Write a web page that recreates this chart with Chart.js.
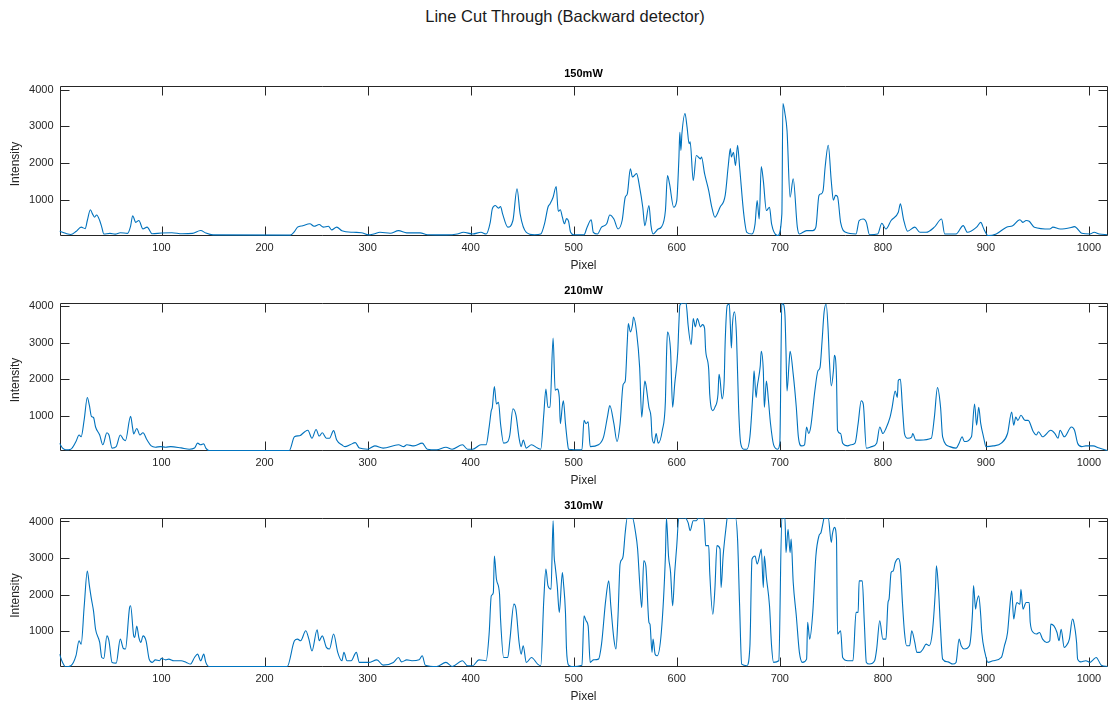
<!DOCTYPE html>
<html><head><meta charset="utf-8">
<script src="https://cdn.jsdelivr.net/npm/chart.js@4.4.0/dist/chart.umd.min.js"></script>
<style>
html,body{margin:0;padding:0;background:#fff;width:1109px;height:702px;overflow:hidden;position:relative;font-family:"Liberation Sans",Arial,sans-serif;}
#title{position:absolute;left:0;width:1130px;top:7px;text-align:center;font-size:16.5px;line-height:18px;color:#1a1a1a;}
canvas{position:absolute;left:0;}
</style></head><body>
<div id="title">Line Cut Through (Backward detector)</div>
<canvas id="c1" width="1109" height="217" style="top:60px"></canvas>
<canvas id="c2" width="1109" height="215" style="top:277px"></canvas>
<canvas id="c3" width="1109" height="210" style="top:492px"></canvas>
<script>
const panelTitles = ["150mW", "210mW", "310mW"];
const xTicks = [100,200,300,400,500,600,700,800,900,1000];
const yTicks = [1000,2000,3000,4000];
const xLimits = [1, 1018];
const yLimits = [30, 4095];

const pixel150 = [1,4,8,12,17,22,26,28,31,33,35,37,40,42,44,50,55,60,67,70,72,75,78,82,86,91,100,110,120,130,138,143,150,225,229,232,237,244,248,253,257,262,265,270,275,286,294,301,306,312,322,330,338,351,358,377,387,393,402,410,415,419,421,424,427,429,431,436,441,445,448,454,462,468,472,475,477,480,483,485,487,489,491,493,495,497,500,510,513,517,519,523,527,532,535,539,543,547,550,552,555,557,561,564,567,569,573,575,577,582,585,589,591,593,597,600,602,603,604,605,608,610,612,613,616,619,623,624,627,631,634,637,642,647,650,652,653,655,657,659,661,665,668,673,676,678,680,682,684,687,690,692,698,702,703,705,707,710,713,717,719,726,732,735,738,740,742,744,747,750,752,754,756,759,764,774,777,781,784,787,795,799,803,808,815,817,820,824,831,836,842,850,857,860,871,878,882,891,895,898,902,910,920,926,933,936,939,942,947,962,965,972,984,986,993,1001,1005,1010,1018];
const intensity150 = [160,130,90,70,150,270,230,450,740,630,540,600,450,270,85,100,80,120,100,300,580,400,450,220,270,90,110,120,90,100,180,110,60,55,150,270,310,360,295,340,270,295,195,270,175,130,120,60,85,130,105,175,115,115,65,60,85,130,85,130,85,400,765,855,785,830,630,270,450,1310,630,130,65,85,400,810,900,1080,1370,700,740,540,360,500,430,130,65,65,270,470,130,85,270,360,600,490,220,450,1080,1170,1850,1630,1720,1350,810,310,855,310,85,220,270,720,1670,1440,810,990,2080,2840,2350,2800,3350,2980,2530,2580,1530,2210,2120,2170,1720,1260,810,540,810,1130,1940,2400,2170,2300,1940,2490,1900,630,130,85,360,990,490,1910,1530,720,810,360,40,630,3620,3350,2890,1080,1580,270,85,175,175,270,1130,1170,1260,1900,2490,1500,1000,1130,1100,400,130,85,450,490,400,65,85,375,220,450,675,900,490,160,270,130,130,270,490,85,85,310,130,270,400,220,40,85,270,310,470,400,450,430,270,220,270,220,270,285,105,85,130,85,65];

const pixel210 = [1,4,7,12,17,20,22,25,28,30,32,34,36,40,43,47,49,52,56,60,63,65,70,72,73,76,79,82,86,90,94,99,104,109,119,127,132,135,138,141,143,146,224,229,234,239,242,246,250,253,256,260,263,267,270,275,278,283,288,292,300,307,315,330,335,338,345,353,358,367,376,382,392,397,402,410,415,418,420,421,423,425,427,429,432,436,438,441,444,447,449,451,454,459,465,468,471,473,475,477,480,482,484,486,487,489,490,492,494,495,508,510,512,514,516,524,529,533,535,539,542,545,548,550,552,553,555,557,558,561,564,566,569,570,573,575,576,578,580,582,586,589,590,591,594,596,598,601,602,603,606,609,610,611,614,616,618,620,623,625,627,628,631,632,635,637,640,641,642,644,646,647,649,651,652,653,654,656,658,660,662,665,668,671,674,675,677,678,681,682,684,685,687,689,691,694,698,700,702,703,705,706,707,709,710,713,716,718,721,724,726,728,730,734,737,739,741,743,745,747,748,750,752,753,755,756,759,761,766,769,773,776,779,781,784,789,794,797,800,803,807,809,812,814,815,817,819,821,824,828,829,832,836,847,850,853,856,858,865,871,874,877,879,886,889,891,893,895,898,900,907,915,921,925,927,929,931,934,938,941,946,949,951,955,963,967,970,972,976,983,986,989,993,997,1004,1010,1018];
const intensity210 = [245,110,65,80,290,470,420,900,1500,1280,980,950,690,470,200,530,470,110,150,470,350,315,980,650,500,650,470,530,330,170,135,150,135,150,115,80,110,245,200,225,110,45,45,420,450,560,600,380,620,440,530,380,380,590,330,200,150,200,260,110,80,170,110,200,150,200,170,245,80,65,135,80,200,80,80,200,200,700,1140,1230,1800,1320,1370,780,245,290,470,1190,1010,380,150,330,110,200,110,80,1050,1730,1230,1230,3130,1700,1730,1500,780,1280,1410,780,245,80,65,870,780,830,150,200,420,1010,1280,780,290,780,1860,1950,3040,3530,3300,3490,3710,3300,2320,960,1950,1860,1230,960,420,245,510,245,600,1410,2590,3300,2770,1230,1860,2770,3490,4030,4095,4095,3850,3490,2950,3670,3440,3670,3440,3500,3400,2810,2270,1590,1140,1230,1590,2140,2000,1460,1950,3040,4030,4060,3490,2860,3490,3850,3170,1230,245,80,80,420,1680,2230,1500,1770,2360,2770,2230,1230,1950,1410,780,200,80,245,4060,4070,3760,2770,1680,2450,2770,2140,1230,420,170,200,690,510,690,1680,2230,2320,3040,3850,4060,3300,2590,1820,2230,2660,2050,600,510,245,170,200,245,780,1410,1320,110,150,245,690,510,650,960,1230,1680,1500,1970,2000,1230,510,380,420,510,330,330,380,960,1770,1230,420,150,110,245,420,290,420,1320,740,1230,780,380,150,170,245,510,1100,740,960,870,1010,870,870,560,470,560,420,600,510,380,600,420,690,600,245,150,170,170,110,45];

const pixel310 = [1,4,7,12,17,20,22,25,28,30,32,34,36,40,42,44,47,49,52,56,60,63,65,69,70,73,74,76,78,80,82,85,88,91,94,98,100,104,107,112,119,124,128,132,135,138,141,143,146,222,229,232,235,240,243,246,251,253,256,260,263,267,271,275,277,280,284,289,292,301,309,315,325,330,333,338,343,350,353,356,367,376,382,392,397,402,408,415,418,420,422,423,425,428,429,432,436,438,442,444,447,449,451,454,459,465,468,471,473,475,478,480,481,482,484,486,489,490,492,493,495,498,508,510,512,514,516,519,524,527,531,534,536,539,541,543,545,547,548,550,552,557,560,562,564,566,568,570,573,574,576,577,579,581,585,589,590,592,594,596,598,600,602,608,611,613,616,619,621,626,627,628,631,632,635,637,639,642,643,645,648,649,657,659,661,663,668,671,673,676,678,681,682,684,685,687,690,692,694,699,702,705,706,708,710,711,713,716,719,722,726,727,729,732,735,738,740,742,743,747,750,751,753,755,756,759,761,766,771,774,776,777,780,782,784,787,792,794,797,800,803,805,806,808,810,812,815,817,819,821,823,826,828,831,833,836,839,842,845,848,851,852,854,856,858,863,868,871,874,876,879,884,887,888,890,891,893,895,896,899,902,907,915,918,921,923,925,927,929,930,933,934,936,939,942,943,946,949,952,955,959,962,963,966,969,971,973,976,978,981,984,985,988,989,992,997,1001,1004,1007,1012,1018];
const intensity310 = [380,155,35,65,340,745,650,1700,2650,2250,1880,1560,1060,700,290,265,880,745,155,135,790,535,520,1650,1700,880,835,1150,835,700,880,745,245,155,225,200,265,225,245,200,200,155,110,290,380,200,380,155,45,45,745,790,745,1020,790,470,1045,745,880,565,520,930,430,200,430,200,200,430,155,155,225,80,155,290,170,225,200,225,335,80,45,155,45,200,65,65,225,200,970,1970,2060,3060,2430,2020,1340,290,290,745,1745,1610,700,380,610,155,290,110,65,1880,2700,2250,2150,4020,3060,2790,2250,1520,2610,2340,1520,520,80,45,80,1430,1290,1150,155,225,245,655,1840,2380,1700,790,520,1430,2840,2970,3060,3700,4095,4095,3700,3250,2340,1650,2930,2790,1250,1200,430,790,380,335,970,3060,4095,3060,2610,1700,2610,3340,4095,4095,3970,3750,4020,4020,4095,4095,3880,3340,3340,2610,1470,2150,3340,3250,2200,3060,3880,4095,4095,3520,1700,110,65,610,2970,3060,2840,3150,3250,2200,3060,2470,1700,610,155,200,4095,4095,3150,3790,3150,3520,2340,1430,430,155,245,1250,790,1520,3060,3610,3700,3970,4095,4095,3430,3650,3840,3520,930,1020,290,200,200,1520,1520,2380,2380,1250,155,110,200,520,1290,790,790,1790,1880,2610,2650,2880,2990,2790,1790,970,610,610,1020,700,430,430,520,655,610,970,2150,2790,2150,1060,245,170,110,155,790,610,520,610,1520,2250,1610,1790,1970,1430,970,430,155,200,290,610,970,1610,2110,1340,1700,1790,1745,2150,1610,1790,1790,1250,970,930,970,790,700,745,1200,1150,970,745,1060,565,610,790,1340,1290,700,245,170,200,155,225,290,80,45];

const panels = [
  {canvas: "c1", pixels: pixel150, values: intensity150, title: panelTitles[0], topPad: 26, xAxisHeight: 41},
  {canvas: "c2", pixels: pixel210, values: intensity210, title: panelTitles[1], topPad: 26, xAxisHeight: 41},
  {canvas: "c3", pixels: pixel310, values: intensity310, title: panelTitles[2], topPad: 26, xAxisHeight: 35}
];

const FONT = '"Liberation Sans", Arial, sans-serif';
const AXIS_COLOR = '#262626';

const matlabAxes = {
  id: 'matlabAxes',
  beforeDatasetsDraw(chart, args, opts) {
    const ctx = chart.ctx;
    const {left, top, right, bottom} = chart.chartArea;
    const xs = chart.scales.x, ys = chart.scales.y;
    const L = Math.round(left) + 0.5, R = Math.round(right) - 0.5;
    const T = Math.round(top) + 0.5, B = Math.round(bottom) - 0.5;
    ctx.save();
    ctx.strokeStyle = AXIS_COLOR;
    ctx.lineWidth = 1;
    ctx.beginPath();
    ctx.rect(L, T, R - L, B - T);
    const tl = 9;
    xTicks.forEach(v => {
      const p = Math.round(xs.getPixelForValue(v)) + 0.5;
      ctx.moveTo(p, B); ctx.lineTo(p, B - tl);
      ctx.moveTo(p, T); ctx.lineTo(p, T + tl);
    });
    yTicks.forEach(v => {
      const p = Math.round(ys.getPixelForValue(v)) + 0.5;
      ctx.moveTo(L, p); ctx.lineTo(L + tl, p);
      ctx.moveTo(R, p); ctx.lineTo(R - tl, p);
    });
    ctx.stroke();
    ctx.fillStyle = '#000';
    ctx.textAlign = 'center';
    ctx.textBaseline = 'middle';
    ctx.font = 'bold 11px ' + FONT;
    ctx.fillText(opts.title, (left + right) / 2, top - 12);
    ctx.fillStyle = AXIS_COLOR;
    ctx.font = '12px ' + FONT;
    ctx.fillText('Pixel', (left + right) / 2, bottom + 29.5);
    ctx.translate(16, (top + bottom) / 2 + 3);
    ctx.rotate(-Math.PI / 2);
    ctx.fillText('Intensity', 0, 0);
    ctx.restore();
  }
};

panels.forEach(p => {
  const data = p.pixels.map((x, i) => ({x: x, y: p.values[i]}));
  new Chart(document.getElementById(p.canvas), {
    type: 'line',
    data: {datasets: [{data: data, borderColor: '#0072BD', borderWidth: 1.1, pointRadius: 0, cubicInterpolationMode: 'monotone', fill: false}]},
    options: {
      responsive: false, animation: false, devicePixelRatio: 1,
      layout: {padding: {top: p.topPad, right: 1.5, left: 0, bottom: 0}},
      plugins: {legend: {display: false}, tooltip: {enabled: false}, title: {display: false}, matlabAxes: {title: p.title}},
      scales: {
        x: {
          type: 'linear', min: xLimits[0], max: xLimits[1],
          grid: {display: false, drawTicks: false}, border: {display: false},
          ticks: {padding: 5, color: AXIS_COLOR, font: {size: 11, family: FONT}, maxRotation: 0, autoSkip: false, callback: v => String(v)},
          afterBuildTicks: s => { s.ticks = xTicks.map(v => ({value: v})); },
          afterFit: s => { s.height = p.xAxisHeight; }
        },
        y: {
          type: 'linear', min: yLimits[0], max: yLimits[1],
          grid: {display: false, drawTicks: false}, border: {display: false},
          ticks: {padding: 6, color: AXIS_COLOR, font: {size: 11, family: FONT}, callback: v => String(v)},
          afterBuildTicks: s => { s.ticks = yTicks.map(v => ({value: v})); },
          afterFit: s => { s.width = 59.5; }
        }
      }
    },
    plugins: [matlabAxes]
  });
});
</script>
</body></html>
